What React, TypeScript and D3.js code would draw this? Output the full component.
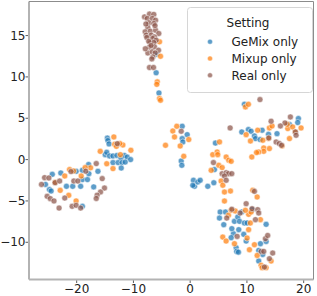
import * as d3 from "d3";

// t-SNE scatter, three settings.
type Pt = [number, number];

const SERIES_NAMES = ["GeMix only", "Mixup only", "Real only"];
const SERIES_COLORS = ["#1f77b4", "#ff7f0e", "#8c564b"];

const GEMIX: Pt[] = [
  [-5.88, 12.75], [-6.0, 10.5], [-5.5, 8.06],
  [-14.6, 2.6], [-14.5, 2.3], [-14.3, 1.9], [-14.97, 0.6], [-14.7, 0.88], [-14.2, 0.44],
  [-13.6, 0.44], [-12.9, 0.5], [-12.2, 0.2], [-11.6, 0.5], [-11.1, 0.3], [-10.5, 0.0],
  [-13.6, -0.36], [-12.7, -0.36], [-12.0, -0.36], [-11.45, -0.3], [-12.15, -1.02],
  [-17.9, -0.6], [-16.25, -1.42], [-20.1, -1.42], [-19.0, -1.3], [-24.3, -1.78],
  [-22.8, -1.62], [-25.5, -3.0], [-24.8, -3.63], [-24.5, -3.8], [-19.0, -2.42],
  [-18.1, -2.42], [-21.8, -3.23], [-20.7, -3.23], [-19.3, -3.23], [-19.0, -5.65],
  [-17.0, -3.3], [-17.85, -1.7],
  [-1.41, 4.03], [-0.53, 3.02], [-1.41, 2.54], [-1.3, 2.13], [-1.58, -0.17], [-1.47, -0.69],
  [0.58, -2.5], [0.76, -3.23], [1.34, -2.71], [1.76, -2.5], [0.46, -3.11], [3.1, -3.23],
  [4.17, -2.8], [4.45, 2.0], [4.28, -1.21],
  [9.56, 6.69], [9.09, 3.34], [10.26, 3.63], [10.73, 3.43], [11.32, 2.86], [11.5, 2.54],
  [12.32, 2.42], [12.68, 3.55], [13.8, 3.06], [15.3, 3.14], [17.5, 4.24], [19.07, 4.96],
  [18.95, 4.48],
  [5.28, -6.34], [6.22, -6.34], [5.16, -7.07], [5.92, -7.87], [7.8, -7.47], [8.38, -6.95],
  [8.68, -7.47], [9.56, -7.67], [10.92, -6.05], [9.1, -6.33], [13.38, -7.83], [7.62, -8.96],
  [8.56, -8.47], [9.44, -9.04], [7.22, -9.44], [9.86, -9.85], [8.1, -10.65], [8.2, -11.1],
  [8.5, -11.19], [12.38, -10.17], [13.38, -9.9], [12.08, -10.98], [12.78, -11.47],
  [12.08, -12.27], [7.34, -8.35], [10.04, -7.66],
];

const MIXUP: Pt[] = [
  [-5.4, 14.24], [-5.23, 12.5], [-5.8, 9.4], [-5.88, 9.1], [-5.4, 7.38], [-5.23, 7.18],
  [-13.45, 2.74], [-13.3, 1.85], [-13.0, 1.6], [-11.86, 1.77], [-12.4, 1.95], [-15.85, 1.0],
  [-12.3, 0.6], [-10.45, 1.13], [-14.7, -0.5], [-13.6, -1.09], [-17.55, -1.0], [-19.2, -1.98],
  [-21.25, -1.21], [-20.55, -1.38], [-18.5, -0.97], [-22.1, -1.98], [-22.9, -3.72],
  [-21.4, -4.32], [-23.8, -2.75], [-20.1, -5.0],
  [-2.36, 4.03], [-3.06, 3.46], [-2.76, 2.74], [-0.25, 2.42], [-1.76, 1.65], [-4.35, 1.73],
  [-1.13, 0.4],
  [3.98, 0.6], [4.75, 0.92], [4.86, 0.6], [6.34, 0.31], [6.8, -0.08], [7.22, -0.21],
  [5.04, -0.69], [3.7, -1.3], [5.63, -0.97], [5.45, -2.59], [5.75, -3.1], [6.04, -3.92],
  [7.1, -3.8], [6.04, -5.01], [5.17, 2.14],
  [9.74, 6.37], [10.26, 6.69], [9.86, 3.02], [11.9, 3.55], [10.62, 2.25], [13.8, 2.54],
  [13.96, 3.83], [14.43, 4.07], [17.2, 3.75], [18.06, 3.95], [18.5, 3.34], [19.54, 3.83],
  [17.5, 2.54], [13.96, 1.33], [12.96, 1.41], [12.96, 1.0], [12.08, 0.92], [11.7, 0.85],
  [10.86, 0.32], [12.8, 2.34], [16.2, 1.65], [17.1, 4.27],
  [11.03, -3.72], [11.8, -4.52], [7.22, -6.14], [6.74, -6.74], [7.93, -6.21], [10.3, -6.62],
  [10.74, -6.34], [9.74, -6.13], [10.6, -7.67], [12.38, -7.26], [10.3, -8.47], [5.74, -9.37],
  [6.33, -9.85], [10.03, -9.49], [7.8, -10.17], [10.44, -10.9], [11.32, -10.29],
  [11.8, -11.59], [14.26, -12.27], [12.5, -12.79], [12.68, -13.07], [13.38, -13.07],
];

const REAL: Pt[] = [
  [-8.05, 17.26], [-7.17, 17.6], [-6.41, 17.56], [-7.57, 17.07], [-6.69, 17.07], [-6.1, 16.86],
  [-7.28, 16.54], [-6.4, 16.46], [-7.46, 15.98], [-7.93, 15.45], [-7.04, 15.53], [-6.1, 15.65],
  [-5.53, 15.25], [-7.75, 15.05], [-6.87, 15.05], [-6.29, 14.84], [-7.64, 14.77], [-6.58, 14.65],
  [-5.99, 14.44], [-7.04, 14.12], [-6.4, 14.16], [-7.17, 13.63], [-6.29, 13.63], [-5.58, 13.23],
  [-7.46, 12.9], [-6.69, 13.03], [-6.16, 12.9], [-6.58, 12.42], [-6.76, 12.18], [-7.17, 11.14],
  [-6.46, 11.14], [-7.8, 16.4], [-6.2, 16.2], [-7.3, 14.3], [-6.9, 13.8], [-7.9, 13.4],
  [-12.85, 1.93], [-16.55, -0.48], [-18.4, -1.4], [-21.0, -1.45], [-15.5, -2.3], [-15.1, -3.44],
  [-15.8, -3.92], [-16.4, -4.3], [-16.55, -4.7], [-25.65, -2.18], [-24.9, -2.22], [-26.2, -3.0],
  [-23.8, -2.79], [-23.0, -2.59], [-20.5, -2.59], [-19.8, -2.59], [-25.2, -4.44],
  [-24.65, -4.72], [-24.0, -5.0], [-23.1, -5.86], [-22.1, -4.65], [-20.8, -5.65],
  [-20.1, -5.53], [-19.3, -5.86],
  [-1.58, 3.43],
  [4.1, -0.36], [5.63, -1.7], [6.34, -1.58], [6.74, -1.7], [7.33, -1.7], [6.04, -1.98],
  [6.34, -2.5], [7.04, 3.83],
  [12.3, 7.26], [14.26, 4.64], [16.7, 4.43], [17.66, 5.16], [18.54, 3.34], [18.66, 2.94],
  [15.14, 2.13], [15.7, 1.94], [16.1, 1.73], [13.85, 2.62], [15.9, 4.07],
  [11.32, -3.84], [9.86, -5.33], [6.44, -7.07], [8.8, -6.46], [10.9, -5.93], [11.9, -6.05],
  [12.08, -6.46], [11.5, -7.26], [8.27, -9.29], [13.26, -9.56], [13.66, -9.17], [12.5, -11.1],
  [12.96, -11.1], [13.96, -11.99], [14.54, -11.3], [13.08, -13.0], [7.34, -6.0],
];

const X_TICKS = [-20, -10, 0, 10, 20];
const Y_TICKS = [-10, -5, 0, 5, 10, 15];

const W = 317;
const H = 296;
const PLOT = { left: 29, right: 313.5, top: 1.5, bottom: 279.5 };
const FONT = "DejaVu Sans, sans-serif";

export default function App() {
  const x = d3.scaleLinear().domain([-28.4, 21.73]).range([PLOT.left, PLOT.right]);
  const y = d3.scaleLinear().domain([-14.5, 19.12]).range([PLOT.bottom, PLOT.top]);
  const all = [GEMIX, MIXUP, REAL];

  return (
    <svg
      width={W}
      height={H}
      style={{ position: "absolute", left: 0, top: 0, background: "#fff" }}
      fontFamily={FONT}
    >
      {all.map((pts, si) => (
        <g key={si}>
          {pts.map((d, i) => (
            <circle
              key={i}
              cx={x(d[0])}
              cy={y(d[1])}
              r={3}
              fill={SERIES_COLORS[si]}
              fillOpacity={0.72}
              stroke="#fff"
              strokeWidth={0.5}
            />
          ))}
        </g>
      ))}

      {/* frame */}
      <line x1={PLOT.left} x2={PLOT.left} y1={PLOT.top} y2={PLOT.bottom} stroke="#b3b3b3" strokeWidth={2} />
      <line x1={PLOT.left} x2={PLOT.right} y1={PLOT.bottom} y2={PLOT.bottom} stroke="#b3b3b3" strokeWidth={2} />
      <line x1={PLOT.left} x2={PLOT.right} y1={PLOT.top} y2={PLOT.top} stroke="#8c8c8c" strokeWidth={1} />
      <line x1={PLOT.right} x2={PLOT.right} y1={PLOT.top} y2={PLOT.bottom} stroke="#8c8c8c" strokeWidth={1} />

      {X_TICKS.map((t) => (
        <g key={t} transform={`translate(${x(t)},0)`}>
          <line y1={PLOT.bottom + 1} y2={PLOT.bottom + 3.5} stroke="#333" strokeWidth={0.8} />
          <text y={292.5} textAnchor="middle" fontSize={12} fill="#222">
            {t < 0 ? `\u2212${-t}` : t}
          </text>
        </g>
      ))}
      {Y_TICKS.map((t) => (
        <g key={t} transform={`translate(0,${y(t)})`}>
          <line x1={PLOT.left - 1} x2={PLOT.left - 3.5} stroke="#333" strokeWidth={0.8} />
          <text x={25.5} dy={4} textAnchor="end" fontSize={12} fill="#222">
            {t < 0 ? `\u2212${-t}` : t}
          </text>
        </g>
      ))}

      {/* legend */}
      <g>
        <rect x={187.5} y={7.5} width={125} height={85} rx={3} fill="#fff" fillOpacity={0.8} stroke="#d6d6d6" strokeWidth={1} />
        <text x={248} y={27.3} textAnchor="middle" fontSize={12} fill="#222">
          Setting
        </text>
        {SERIES_NAMES.map((name, i) => (
          <g key={name} transform={`translate(0,${i * 16.8})`}>
            <circle cx={210} cy={41.7} r={2.5} fill={SERIES_COLORS[i]} fillOpacity={0.72} stroke="#fff" strokeWidth={0.4} />
            <text x={231.5} y={46} fontSize={12} fill="#222">
              {name}
            </text>
          </g>
        ))}
      </g>
    </svg>
  );
}
